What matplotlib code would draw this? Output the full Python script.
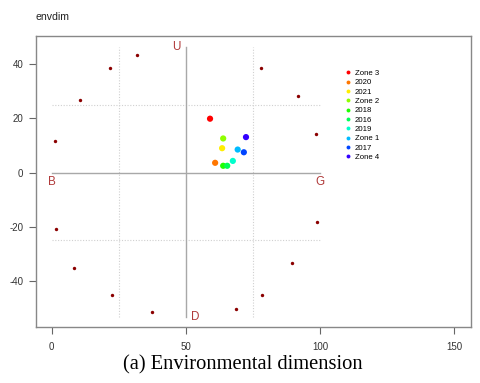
import matplotlib
matplotlib.use("Agg")
import matplotlib.pyplot as plt
from matplotlib.lines import Line2D

# outer ring of reference points (dark red)
ring_x = [31.6, 21.8, 10.7, 1.2, 78.0, 91.9, 98.6, 1.7, 8.3, 22.3, 37.2, 68.5, 78.5, 89.4, 98.9]
ring_y = [43.4, 38.5, 26.7, 11.5, 38.5, 28.4, 14.1, -20.9, -35.4, -45.4, -51.5, -50.3, -45.4, -33.5, -18.4]

# zones / years
names = ["Zone 3", "2020", "2021", "Zone 2", "2018", "2016", "2019", "Zone 1", "2017", "Zone 4"]
pt_x = [59.0, 60.9, 63.5, 63.9, 63.9, 65.4, 67.5, 69.3, 71.6, 72.4]
pt_y = [19.9, 3.6, 9.0, 12.6, 2.5, 2.5, 4.3, 8.5, 7.5, 13.1]
colors = ["#FF0000", "#FF7700", "#FFEE00", "#8FFF00", "#1FFF00",
          "#00FF55", "#00FFCC", "#00BBFF", "#0044FF", "#3300FF"]

# pole labels
pole_txt = ["U", "B", "G", "D"]
pole_x = [46.6, 0.0, 100.0, 53.4]
pole_y = [46.5, -3.6, -3.4, -53.3]

plt.rcParams["font.family"] = ["Liberation Sans", "DejaVu Sans"]
plt.rcParams["axes.unicode_minus"] = False

fig = plt.figure(figsize=(4.8, 3.83), dpi=100)
ax = fig.add_axes([0.075, 0.146, 0.906, 0.761])

# guide lines
ax.plot([50, 50], [-53.5, 46.5], color="#A8A8A8", lw=1.0, zorder=1)
ax.plot([0, 100], [0, 0], color="#A8A8A8", lw=1.0, zorder=1)
for gx in (25, 75):
    ax.plot([gx, gx], [-53.5, 46.5], color="#D0D0D0", lw=0.8, ls=(0, (1, 1.5)), zorder=0)
for gy in (25, -25):
    ax.plot([0, 100], [gy, gy], color="#D0D0D0", lw=0.8, ls=(0, (1, 1.5)), zorder=0)

ax.scatter(ring_x, ring_y, s=6, color="#8B0000", lw=0, zorder=3)
ax.scatter(pt_x, pt_y, s=20, c=colors, lw=0, zorder=3)

for t, x, y in zip(pole_txt, pole_x, pole_y):
    ax.text(x, y, t, color="#B03A3A", fontsize=8.4, ha="center", va="center")

handles = [Line2D([], [], ls="none", marker="o", ms=2.8, mec="none", mfc=c) for c in colors]
ax.legend(handles, names, loc="upper left", bbox_to_anchor=(0.712, 0.883), frameon=False,
          fontsize=5.6, handlelength=0.6, handletextpad=0.6, labelspacing=0.24, borderpad=0,
          borderaxespad=0)

ax.set_xlim(-5.85, 156.2)
ax.set_ylim(-57.1, 50.6)
ax.set_xticks([0, 50, 100, 150])
ax.set_yticks([-40, -20, 0, 20, 40])
ax.tick_params(length=5, width=0.8, color="#666666", labelsize=7, labelcolor="#333333")
ax.tick_params(axis="x", pad=6)
ax.tick_params(axis="y", pad=4)
for sp in ax.spines.values():
    sp.set_color("#888888")
    sp.set_linewidth(1.0)

fig.text(0.075, 1 - 17 / 383, "envdim", fontsize=7.6, color="#222222", va="center")
fig.text(0.506, 1 - 365 / 383, "(a) Environmental dimension", fontsize=14.8,
         family=["Liberation Serif", "DejaVu Serif"], ha="center", va="center")

fig.savefig("out.png", dpi=100)
